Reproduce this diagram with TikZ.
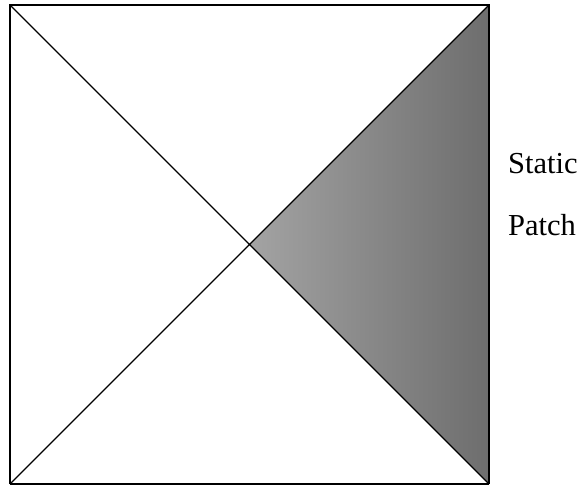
\documentclass[tikz,border=0pt]{standalone}
\usepackage{fontspec}
\setmainfont{Liberation Serif}
\begin{document}
\begin{tikzpicture}[x=1pt, y=-1pt, every node/.style={font=\fontsize{30.5}{36}\selectfont}]
  \useasboundingbox (0,0) rectangle (584,489);
  \coordinate (A) at (10,484);
  \coordinate (B) at (489,484);
  \coordinate (C) at (489,5);
  \coordinate (D) at (10,5);
  \coordinate (O) at (249.5,244.5);
  \shade[left color=gray!72, right color=black!57] (O)--(C)--(B)--cycle;
  \draw[line width=1.3pt] (A)--(C) (D)--(B);
  \draw[line width=1.8pt] (A)--(D)--(C)--(B);
  \draw[line width=2.6pt] (A)--(B);
  \node[anchor=base west, inner sep=0pt] (static) at (508,174) {Static};
  \node[anchor=base west, inner sep=0pt] (patch) at (508,236) {Patch};
\end{tikzpicture}
\end{document}
